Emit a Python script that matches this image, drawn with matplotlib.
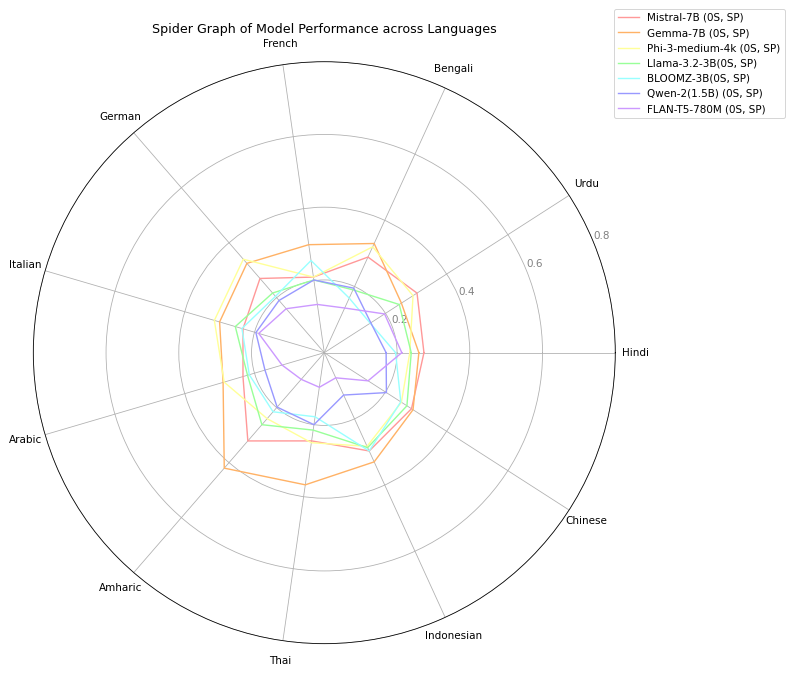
import matplotlib
matplotlib.use('Agg')
import matplotlib.pyplot as plt
import numpy as np

languages = ['Hindi', 'Urdu', 'Bengali', 'French', 'German', 'Italian',
             'Arabic', 'Amharic', 'Thai', 'Indonesian', 'Chinese']

models = ['Mistral-7B (0S, SP)', 'Gemma-7B (0S, SP)', 'Phi-3-medium-4k (0S, SP)',
          'Llama-3.2-3B(0S, SP)', 'BLOOMZ-3B(0S, SP)', 'Qwen-2(1.5B) (0S, SP)',
          'FLAN-T5-780M (0S, SP)']

mistral = [0.274, 0.303, 0.289, 0.21, 0.27, 0.233, 0.233, 0.321, 0.245, 0.297, 0.285]
gemma = [0.26, 0.252, 0.33, 0.30, 0.325, 0.30, 0.29, 0.42, 0.367, 0.33, 0.29]
phi3 = [0.235, 0.29, 0.32, 0.21, 0.34, 0.315, 0.287, 0.24, 0.25, 0.283, 0.252]
llama = [0.239, 0.245, 0.19, 0.202, 0.217, 0.255, 0.22, 0.262, 0.215, 0.287, 0.27]
bloomz = [0.196, 0.15, 0.165, 0.256, 0.205, 0.236, 0.215, 0.215, 0.178, 0.297, 0.25]
qwen = [0.17, 0.152, 0.195, 0.202, 0.19, 0.196, 0.17, 0.198, 0.2, 0.128, 0.203]
flan = [0.213, 0.197, 0.135, 0.134, 0.16, 0.188, 0.121, 0.097, 0.096, 0.076, 0.143]

scores = [mistral, gemma, phi3, llama, bloomz, qwen, flan]
colors = ['#FF9999', '#FFB266', '#FFFF99', '#99FF99', '#99FFFF', '#9999FF', '#CC99FF']

plt.rcParams['font.size'] = 10.4

angles = np.linspace(0, 2 * np.pi, len(languages), endpoint=False).tolist()
angles += angles[:1]

fig = plt.figure(figsize=(793 / 72, 675 / 72), dpi=72)
ax = fig.add_axes([0.042, 0.0464, 0.7339, 0.8622], polar=True)

for name, vals, c in zip(models, scores, colors):
    vals = vals + vals[:1]
    ax.plot(angles, vals, color=c, linewidth=1.4, label=name)

ax.set_xticks(angles[:-1])
ax.set_xticklabels(languages)
ax.tick_params(axis='x', pad=10)
ax.set_yticks([0.2, 0.4, 0.6, 0.8])
ax.set_yticklabels(['0.2', '0.4', '0.6', '0.8'], color='grey')
ax.set_ylim(0, 0.8)

plt.title('Spider Graph of Model Performance across Languages', fontsize=12.6)
plt.legend(loc='upper right', bbox_to_anchor=(1.3, 1.1))

plt.savefig('out.png', dpi=72)
